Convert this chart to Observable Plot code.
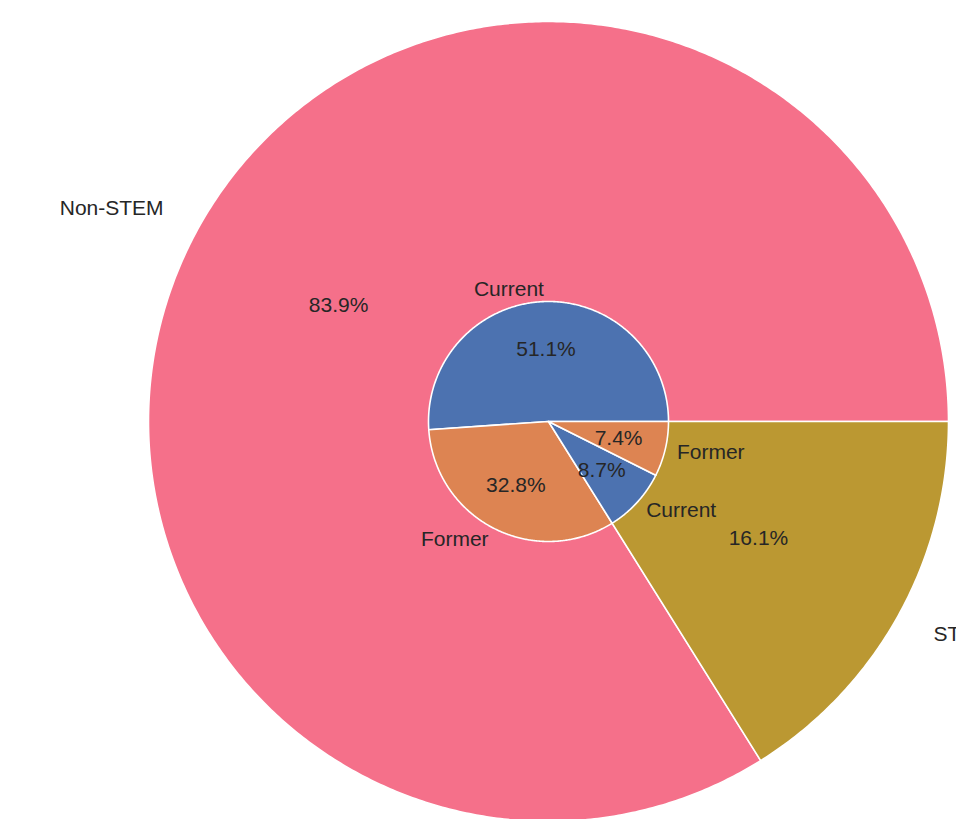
<!DOCTYPE html>
<html>
<head>
<meta charset="utf-8">
<script src="https://cdn.jsdelivr.net/npm/d3@7"></script>
<script src="https://cdn.jsdelivr.net/npm/@observablehq/plot@0.6"></script>
<style>
  html, body { margin: 0; padding: 0; background: white; overflow: hidden; }
  #chart svg { display: block; }
</style>
</head>
<body>
<div id="chart"></div>
<script>
// ---- data ----
const outerLabels = ["Non-STEM", "STEM"];
const outerValues = [83.9, 16.1];
const innerLabels = ["Current", "Former", "Current", "Former"];
const innerValues = [51.1, 32.8, 8.7, 7.4];

// ---- styles ----
const outerColors = ["#f5708a", "#bb9832"];
const innerColors = ["#4c72b0", "#dd8452"];
const innerRadius = 0.3;   // relative to outer radius
const labelDist = 1.1;
const pctDist = 0.6;

function buildWedges(labels, values, radius, colors, ring) {
  const total = d3.sum(values);
  let start = 0;
  const pts = [], lbls = [];
  values.forEach((v, i) => {
    const a0 = start, a1 = start + v / total * 2 * Math.PI;
    start = a1;
    const key = ring + i;
    const color = colors[i % colors.length];
    pts.push({key, x: 0, y: 0, color});
    const n = Math.max(2, Math.ceil((a1 - a0) / (Math.PI / 360)));
    for (let k = 0; k <= n; k++) {
      const a = a0 + (a1 - a0) * k / n;
      pts.push({key, x: radius * Math.cos(a), y: radius * Math.sin(a), color});
    }
    const mid = (a0 + a1) / 2;
    const lx = labelDist * radius * Math.cos(mid), ly = labelDist * radius * Math.sin(mid);
    lbls.push({
      x: lx, y: ly, text: labels[i], side: lx < 0 ? "end" : "start",
      px: pctDist * radius * Math.cos(mid), py: pctDist * radius * Math.sin(mid),
      pct: (v / total * 100).toFixed(1) + "%"
    });
  });
  return {pts, lbls};
}

const outer = buildWedges(outerLabels, outerValues, 1, outerColors, "o");
const inner = buildWedges(innerLabels, innerValues, innerRadius, innerColors, "i");
const allLabels = [...outer.lbls, ...inner.lbls];

const wedgeOpts = {x: "x", y: "y", z: "key", fill: "color", stroke: "white", strokeWidth: 1.6, curve: "linear-closed", clip: true};

const chart = Plot.plot({
  width: 956,
  height: 819,
  margin: 0,
  x: {domain: [-1.37, 1.02], range: [0, 956], axis: null},
  y: {domain: [-0.995, 1.0525], range: [819, 0], axis: null},
  color: {type: "identity"},
  style: {fontFamily: "'Liberation Sans', Arial, sans-serif", fontSize: "21px", color: "#262626", background: "white", overflow: "hidden"},
  marks: [
    Plot.line(outer.pts, wedgeOpts),
    Plot.line(inner.pts, wedgeOpts),
    Plot.text(allLabels.filter(d => d.side === "end"), {x: "x", y: "y", text: "text", textAnchor: "end", fill: "#262626", clip: true}),
    Plot.text(allLabels.filter(d => d.side === "start"), {x: "x", y: "y", text: "text", textAnchor: "start", fill: "#262626", clip: true}),
    Plot.text(allLabels, {x: "px", y: "py", text: "pct", textAnchor: "middle", fill: "#262626", clip: true})
  ]
});
document.getElementById("chart").appendChild(chart);
</script>
</body>
</html>
